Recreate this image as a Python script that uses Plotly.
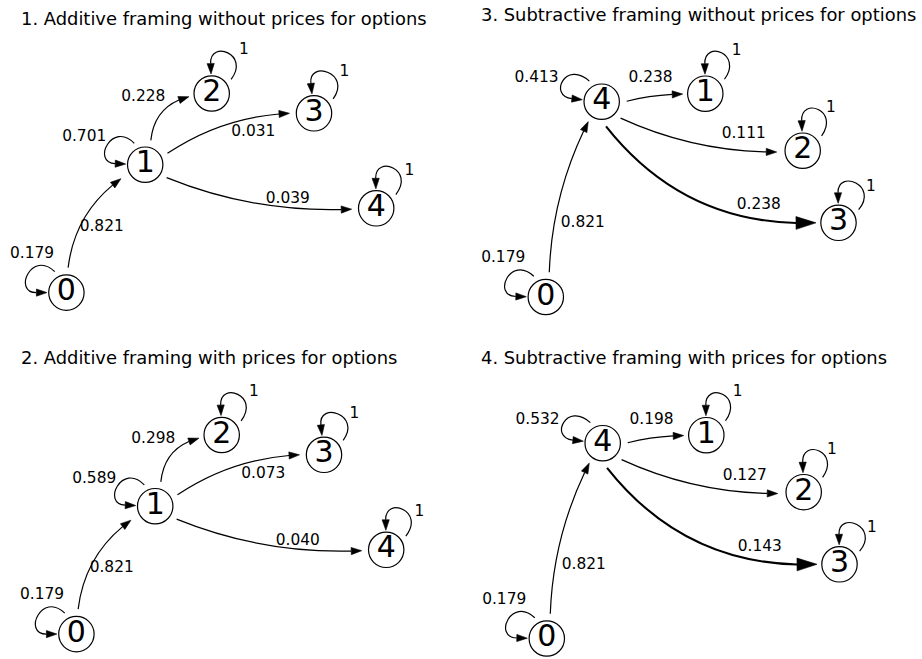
import math
import plotly.graph_objects as go

# ---------------- data ----------------
TITLES = [
    "1. Additive framing without prices for options",
    "2. Additive framing with prices for options",
    "3. Subtractive framing without prices for options",
    "4. Subtractive framing with prices for options",
]
NODE_LABELS = ["0", "1", "2", "3", "4"]

ADD_EDGES = [(0, 0), (0, 1), (1, 1), (1, 2), (1, 3), (1, 4), (2, 2), (3, 3), (4, 4)]
ADD_P_NO_PRICE = [0.179, 0.821, 0.701, 0.228, 0.031, 0.039, 1, 1, 1]
ADD_P_PRICE = [0.179, 0.821, 0.589, 0.298, 0.073, 0.040, 1, 1, 1]

SUB_EDGES = [(0, 0), (0, 4), (4, 4), (4, 1), (4, 2), (4, 3), (1, 1), (2, 2), (3, 3)]
SUB_P_NO_PRICE = [0.179, 0.821, 0.413, 0.238, 0.111, 0.238, 1, 1, 1]
SUB_P_PRICE = [0.179, 0.821, 0.532, 0.198, 0.127, 0.143, 1, 1, 1]

# ---------------- layout (diagram geometry) ----------------
W, H = 922, 659
FONT = "DejaVu Sans"
R = 17.7

ADD_LAYOUT = dict(
    nodes={0: (66.4, 292.6), 1: (145.2, 164.7), 2: (211.7, 93.5), 3: (314.0, 113.3), 4: (376.2, 208.3)},
    edges={(0, 1): (86, 210, 0.22, 28), (1, 2): (77, 188, 0.35, 23), (1, 3): (27, 180, 0.14, 24.5),
           (1, 4): (-31, 182, -0.11, 24.5)},
    loops={0: (119, 180), 1: (117, 178), 2: (36, 92), 3: (37, 96), 4: (35, 91)},
    labels={(0, 0): (32.0, 253.8), (0, 1): (101.7, 226.7), (1, 1): (84.2, 137.5), (1, 2): (143.3, 97.5),
            (1, 3): (253.3, 132.5), (1, 4): (287.8, 199.2), (2, 2): (244.0, 50.5), (3, 3): (344.3, 72.3),
            (4, 4): (409.3, 170.7)},
    thick=[],
)
SUB_LAYOUT = dict(
    nodes={0: (545.8, 297.0), 4: (601.7, 101.7), 1: (705.3, 93.7), 2: (802.7, 150.7), 3: (838.5, 222.8)},
    edges={(0, 4): (82, 236, 0.11, 24), (4, 1): (1, 181, 0.057, 22.6), (4, 2): (-41, 183, -0.11, 26),
           (4, 3): (-80, 180, -0.255, 22.5)},
    loops={0: (120, 179), 4: (121, 174), 1: (37, 91), 2: (38, 92), 3: (33, 91)},
    labels={(0, 0): (503.2, 258.2), (0, 4): (582.8, 223.3), (4, 4): (536.5, 78.3), (4, 1): (650.5, 78.5),
            (4, 2): (743.7, 134.2), (4, 3): (758.8, 205.2), (1, 1): (736.7, 50.7), (2, 2): (831.0, 108.3),
            (3, 3): (871.0, 186.7)},
    thick=[(4, 3)],
)

PANELS = [
    dict(title=TITLES[0], tpos=(18.5, 18.3), layout=ADD_LAYOUT, off=(0, 0), edges=ADD_EDGES, p=ADD_P_NO_PRICE),
    dict(title=TITLES[1], tpos=(18.5, 357.3), layout=ADD_LAYOUT, off=(10, 341.5), edges=ADD_EDGES, p=ADD_P_PRICE),
    dict(title=TITLES[2], tpos=(478.5, 14.3), layout=SUB_LAYOUT, off=(0, 0), edges=SUB_EDGES, p=SUB_P_NO_PRICE),
    dict(title=TITLES[3], tpos=(478.5, 357.5), layout=SUB_LAYOUT, off=(1, 341.5), edges=SUB_EDGES, p=SUB_P_PRICE),
]

shapes = []
annotations = []


def u(a):
    r = math.radians(a)
    return (math.cos(r), -math.sin(r))


def add(p, q, s=1.0):
    return (p[0] + s * q[0], p[1] + s * q[1])


def fmt(p):
    return f"{p[0]:.2f},{p[1]:.2f}"


def arrowhead(tip, d, L, hw):
    b = (tip[0] - L * d[0], tip[1] - L * d[1])
    n = (-d[1], d[0])
    p1 = add(b, n, hw)
    p2 = add(b, n, -hw)
    shapes.append(dict(type="path", xref="x", yref="y", path=f"M {fmt(tip)} L {fmt(p1)} L {fmt(p2)} Z",
                       fillcolor="black", line=dict(color="black", width=0.6), layer="below"))


def qbez(P0, C, P2, t):
    mt = 1 - t
    return (mt * mt * P0[0] + 2 * mt * t * C[0] + t * t * P2[0],
            mt * mt * P0[1] + 2 * mt * t * C[1] + t * t * P2[1])


def draw_edge(P0, T, rad, L, hw, width):
    dx, dy = T[0] - P0[0], T[1] - P0[1]
    mid = ((P0[0] + T[0]) / 2, (P0[1] + T[1]) / 2)
    C = (mid[0] + rad * dy, mid[1] - rad * dx)
    lo, hi = 0.0, 1.0
    for _ in range(60):
        m = (lo + hi) / 2
        p = qbez(P0, C, T, m)
        if math.hypot(p[0] - T[0], p[1] - T[1]) > L:
            lo = m
        else:
            hi = m
    t = lo
    C1 = (P0[0] + t * (C[0] - P0[0]), P0[1] + t * (C[1] - P0[1]))
    B = qbez(P0, C, T, t)
    shapes.append(dict(type="path", xref="x", yref="y", path=f"M {fmt(P0)} Q {fmt(C1)} {fmt(B)}",
                       line=dict(color="black", width=width), layer="below"))
    ln = math.hypot(T[0] - B[0], T[1] - B[1])
    arrowhead(T, ((T[0] - B[0]) / ln, (T[1] - B[1]) / ln), L, hw)


def draw_loop(c, a_s, a_e, L=10.5, hw=3.6, width=1.2):
    S = add(c, u(a_s), 24)
    T = add(c, u(a_e), 19.5)
    Bb = add(T, u(a_e), L)
    C1 = add(S, u(a_s + 17), 32)
    C2 = add(Bb, u(a_e), 24)
    shapes.append(dict(type="path", xref="x", yref="y",
                       path=f"M {fmt(S)} C {fmt(C1)} {fmt(C2)} {fmt(Bb)}",
                       line=dict(color="black", width=width), layer="below"))
    d = u(a_e)
    arrowhead(T, (-d[0], -d[1]), L, hw)


def label_text(p):
    return "1" if p == 1 else f"{p:.3f}"


node_x, node_y, node_t = [], [], []
lab_x, lab_y, lab_t = [], [], []

for panel in PANELS:
    lay = panel["layout"]
    ox, oy = panel["off"]
    nodes = {k: (v[0] + ox, v[1] + oy) for k, v in lay["nodes"].items()}
    annotations.append(dict(x=panel["tpos"][0], y=panel["tpos"][1], xref="x", yref="y", text=panel["title"],
                            showarrow=False, xanchor="left", yanchor="middle",
                            font=dict(family=FONT, size=17.9, color="black")))
    for k, c in nodes.items():
        shapes.append(dict(type="circle", xref="x", yref="y", x0=c[0] - R, x1=c[0] + R, y0=c[1] - R,
                           y1=c[1] + R, line=dict(color="black", width=1.2), fillcolor="white", layer="below"))
        node_x.append(c[0])
        node_y.append(c[1])
        node_t.append(NODE_LABELS[k])
    for (s, t), p in zip(panel["edges"], panel["p"]):
        if s == t:
            a_s, a_e = lay["loops"][s]
            draw_loop(nodes[s], a_s, a_e)
        else:
            a, b, rad, dt = lay["edges"][(s, t)]
            P0 = add(nodes[s], u(a), 25)
            T = add(nodes[t], u(b), dt)
            if (s, t) in lay["thick"]:
                draw_edge(P0, T, rad, 20, 6.4, 2.1)
            else:
                draw_edge(P0, T, rad, 10.5, 3.6, 1.2)
        lx, ly = lay["labels"][(s, t)]
        lab_x.append(lx + ox)
        lab_y.append(ly + oy)
        lab_t.append(label_text(p))

fig = go.Figure()
fig.add_trace(go.Scatter(x=node_x, y=node_y, text=node_t, mode="text", textposition="middle center",
                         textfont=dict(family=FONT, size=30, color="black"), hoverinfo="skip",
                         showlegend=False, cliponaxis=False))
fig.add_trace(go.Scatter(x=lab_x, y=lab_y, text=lab_t, mode="text", textposition="middle center",
                         textfont=dict(family=FONT, size=15.4, color="black"), hoverinfo="skip",
                         showlegend=False, cliponaxis=False))

fig.update_layout(
    width=W, height=H,
    margin=dict(l=0, r=0, t=0, b=0, pad=0),
    paper_bgcolor="white", plot_bgcolor="white",
    xaxis=dict(range=[0, W], visible=False, fixedrange=True),
    yaxis=dict(range=[H, 0], visible=False, fixedrange=True),
    shapes=shapes, annotations=annotations, showlegend=False,
)
fig.write_html("out.html", config={"displayModeBar": False, "staticPlot": True},
               post_script="document.body.style.margin='0';document.body.style.overflow='hidden';")
